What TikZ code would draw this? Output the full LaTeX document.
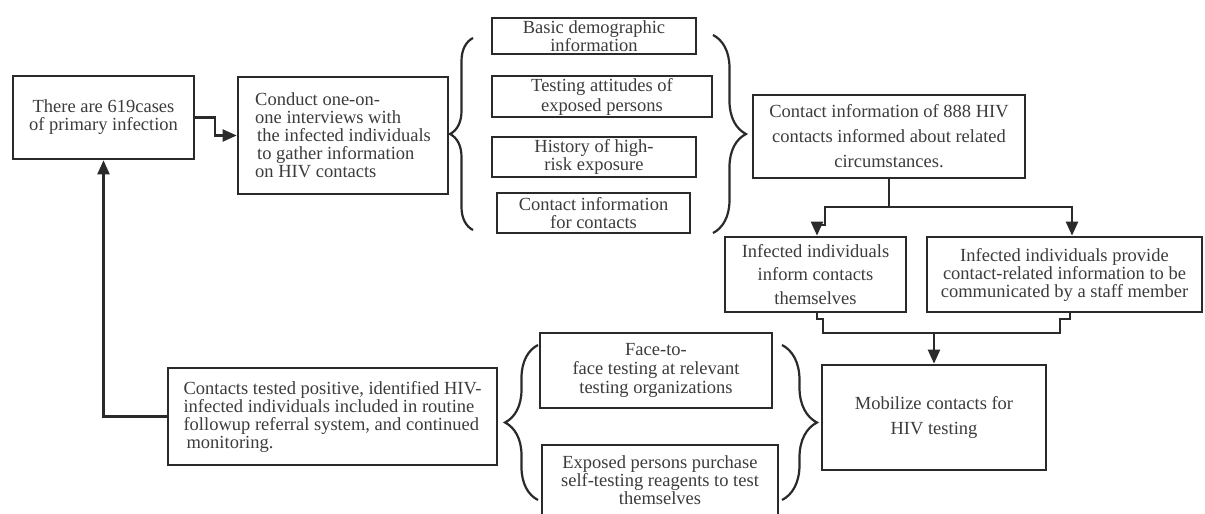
\documentclass[tikz,border=0pt]{standalone}
\usepackage{fontspec}
\setmainfont{Liberation Serif}
\usetikzlibrary{arrows.meta,decorations.pathreplacing}
\definecolor{ink}{HTML}{2A2A2A}
\definecolor{txt}{HTML}{3C3C3C}
\begin{document}
\begin{tikzpicture}[x=1pt,y=-1pt,
  box/.style={draw=ink,line width=2.7pt,fill=white,text=txt,inner sep=0pt,align=center,
    font=\fontsize{18.5}{18}\selectfont},
  wide/.style={font=\fontsize{18.5}{25}\selectfont},
  line/.style={draw=ink,line width=2.2pt},
  arr/.style={line,-{Triangle[length=14pt,width=12pt]}},
  brc/.style={draw=ink,line width=2.2pt,decorate}]
\fill[white] (0,0) rectangle (1205,514);
\useasboundingbox (0,0) rectangle (1205,514);

\node[box,minimum width=181pt,minimum height=83pt] (A) at (103.5,117.5)
  {There are 619cases\\of primary infection};
\node[box,minimum width=210pt,minimum height=117pt,align=left] (B) at (343,135.5)
  {Conduct one-on-\\one interviews with\\\hspace{2pt}the infected individuals\\\hspace{2pt}to gather information\\on HIV contacts};

\node[box,minimum width=204pt,minimum height=36pt] (L1) at (594,36)
  {Basic demographic\\information};
\node[box,minimum width=220pt,minimum height=41pt,font=\fontsize{18.5}{20}\selectfont] (L2) at (602,96.5)
  {Testing attitudes of\\exposed persons};
\node[box,minimum width=204pt,minimum height=40pt] (L3) at (594,157)
  {History of high-\\risk exposure};
\node[box,minimum width=193pt,minimum height=40pt] (L4) at (593.5,213)
  {Contact information\\for contacts};

\node[box,wide,minimum width=272pt,minimum height=83pt] (C) at (889,136.5)
  {Contact information of 888 HIV\\contacts informed about related\\circumstances.};
\node[box,font=\fontsize{18.5}{23.5}\selectfont,minimum width=181pt,minimum height=75pt] (D) at (815.5,274.5)
  {Infected individuals\\inform contacts\\themselves};
\node[box,minimum width=275pt,minimum height=75pt] (E) at (1064.5,274.5)
  {Infected individuals provide\\contact-related information to be\\communicated by a staff member};
\node[box,wide,minimum width=224pt,minimum height=105pt] (F) at (934,417.5)
  {Mobilize contacts for\\HIV testing};
\node[box,font=\fontsize{18.5}{19}\selectfont,minimum width=232pt,minimum height=75pt] (T1) at (656,370.5)
  {Face-to-\\face testing at relevant\\testing organizations};
\node[box,minimum width=236pt,minimum height=71pt] (T2) at (660,480.5)
  {Exposed persons purchase\\self-testing reagents to test\\themselves};
\node[box,minimum width=329pt,minimum height=97pt,align=left] (G) at (332.5,416.5)
  {Contacts tested positive, identified HIV-\\infected individuals included in routine\\followup referral system, and continued\\\hspace{3pt}monitoring.};

% braces
\draw[brc,decoration={brace,amplitude=23pt}] (473,230) -- (473,38);
\draw[brc,decoration={brace,amplitude=33pt}] (713,35) -- (713,233);
\draw[brc,decoration={brace,amplitude=33pt}] (538,500) -- (538,345);
\draw[brc,decoration={brace,amplitude=35pt}] (782,345) -- (782,500);

% connectors
\draw[arr] (A.east) -- (215,117.5) |- (B.west);
\coordinate (j1) at (889,207);
\draw[line] (C.south) -- (j1);
\draw[arr] (j1) -| (825,225) -| ([xshift=1.5pt]D.north);
\draw[arr] (j1) -| ([xshift=7.5pt]E.north);
\coordinate (j2) at (934,333);
\draw[line] ([xshift=1.5pt]D.south) -- ++(0,6) -- ++(6,0) |- (j2);
\draw[line] ([xshift=5.5pt]E.south) -- ++(0,6) -- ++(-10,0) |- (j2);
\draw[arr] (j2) -- (F.north);
\draw[arr] (G.west) -| (A.south);
\end{tikzpicture}
\end{document}
